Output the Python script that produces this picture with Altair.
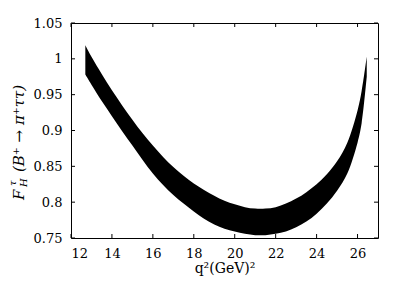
import altair as alt
import pandas as pd

# ---- data ----
q2 = [12.7, 13.0, 13.5, 14.0, 14.5, 15.0, 15.5, 16.0, 16.5, 17.0, 17.5, 18.0,
      18.5, 19.0, 19.5, 20.0, 20.5, 21.0, 21.5, 22.0, 22.5, 23.0, 23.5, 24.0,
      24.5, 25.0, 25.5, 26.0, 26.2, 26.45]
upper = [1.019, 1.003, 0.979, 0.956, 0.935, 0.915, 0.896, 0.879, 0.863, 0.849,
         0.837, 0.826, 0.817, 0.809, 0.802, 0.797, 0.793, 0.791, 0.791, 0.793,
         0.798, 0.805, 0.814, 0.825, 0.839, 0.857, 0.883, 0.928, 0.955, 1.003]
lower = [0.978, 0.964, 0.941, 0.920, 0.899, 0.879, 0.859, 0.840, 0.824, 0.810,
         0.798, 0.787, 0.777, 0.769, 0.763, 0.759, 0.756, 0.754, 0.754, 0.756,
         0.759, 0.765, 0.773, 0.784, 0.798, 0.816, 0.840, 0.883, 0.910, 0.975]
x_ticks = [12, 14, 16, 18, 20, 22, 24, 26]
y_ticks = [0.75, 0.8, 0.85, 0.9, 0.95, 1.0, 1.05]

W, H = 307, 215
FONT = "DejaVu Serif"
TICK = 4

band_df = pd.DataFrame({"q2": q2, "upper": upper, "lower": lower})
xt_df = pd.DataFrame({"v": x_ticks})
yt_df = pd.DataFrame({"v": y_ticks})

xs = alt.Scale(domain=[12, 27], nice=False, zero=False)
ys = alt.Scale(domain=[0.75, 1.05], nice=False, zero=False)

ax_x = alt.Axis(values=x_ticks, ticks=False, domain=False, grid=False,
                labelFont=FONT, labelFontSize=13, labelColor="black", labelPadding=9,
                title="q²(GeV)²", titleFont=FONT, titleFontSize=14,
                titleFontWeight="normal", titleColor="black", titlePadding=1)
ax_y = alt.Axis(values=y_ticks, format="~g", ticks=False, domain=False, grid=False,
                labelFont=FONT, labelFontSize=13, labelColor="black", labelPadding=9,
                title=None)

band = alt.Chart(band_df).mark_area(color="black", interpolate="catmull-rom").encode(
    x=alt.X("q2:Q", scale=xs, axis=ax_x),
    y=alt.Y("upper:Q", scale=ys, axis=ax_y),
    y2="lower:Q",
)

tick_style = dict(color="black", strokeWidth=1)
bottom_t = alt.Chart(xt_df).mark_rule(**tick_style).encode(
    x=alt.X("v:Q", scale=xs, axis=ax_x), y=alt.value(H), y2=alt.value(H - TICK))
top_t = alt.Chart(xt_df).mark_rule(**tick_style).encode(
    x=alt.X("v:Q", scale=xs, axis=ax_x), y=alt.value(0), y2=alt.value(TICK))
left_t = alt.Chart(yt_df).mark_rule(**tick_style).encode(
    y=alt.Y("v:Q", scale=ys, axis=ax_y), x=alt.value(0), x2=alt.value(TICK))
right_t = alt.Chart(yt_df).mark_rule(**tick_style).encode(
    y=alt.Y("v:Q", scale=ys, axis=ax_y), x=alt.value(W - TICK), x2=alt.value(W))

# composed y-axis title: F_H^tau (B+ -> pi+ tau tau)
def ttext(s, x, y, size, style="italic"):
    return alt.Chart(pd.DataFrame({"t": [s]})).mark_text(
        angle=270, align="left", baseline="alphabetic", font=FONT,
        fontSize=size, fontStyle=style, color="black").encode(
        text="t:N", x=alt.value(x), y=alt.value(y))

t_F = ttext("F", -47, 177, 15)
t_sup = ttext("τ", -55, 163, 10)
t_sub = ttext("H", -44, 164, 10)
t_main = ttext("(B⁺  →  π⁺ττ)", -47, 149, 15)

chart = alt.layer(band, bottom_t, top_t, left_t, right_t,
                  t_F, t_sup, t_sub, t_main).properties(
    width=W, height=H,
    autosize=alt.AutoSizeParams(type="none"),
    padding={"left": 63, "top": 15, "right": 21, "bottom": 39},
).configure_view(stroke="black", strokeWidth=1).configure_axis(
    labelFont=FONT, titleFont=FONT, labelColor="black", titleColor="black"
).configure_text(font=FONT)

chart.save("out.html", embed_options={"renderer": "svg", "actions": False})
